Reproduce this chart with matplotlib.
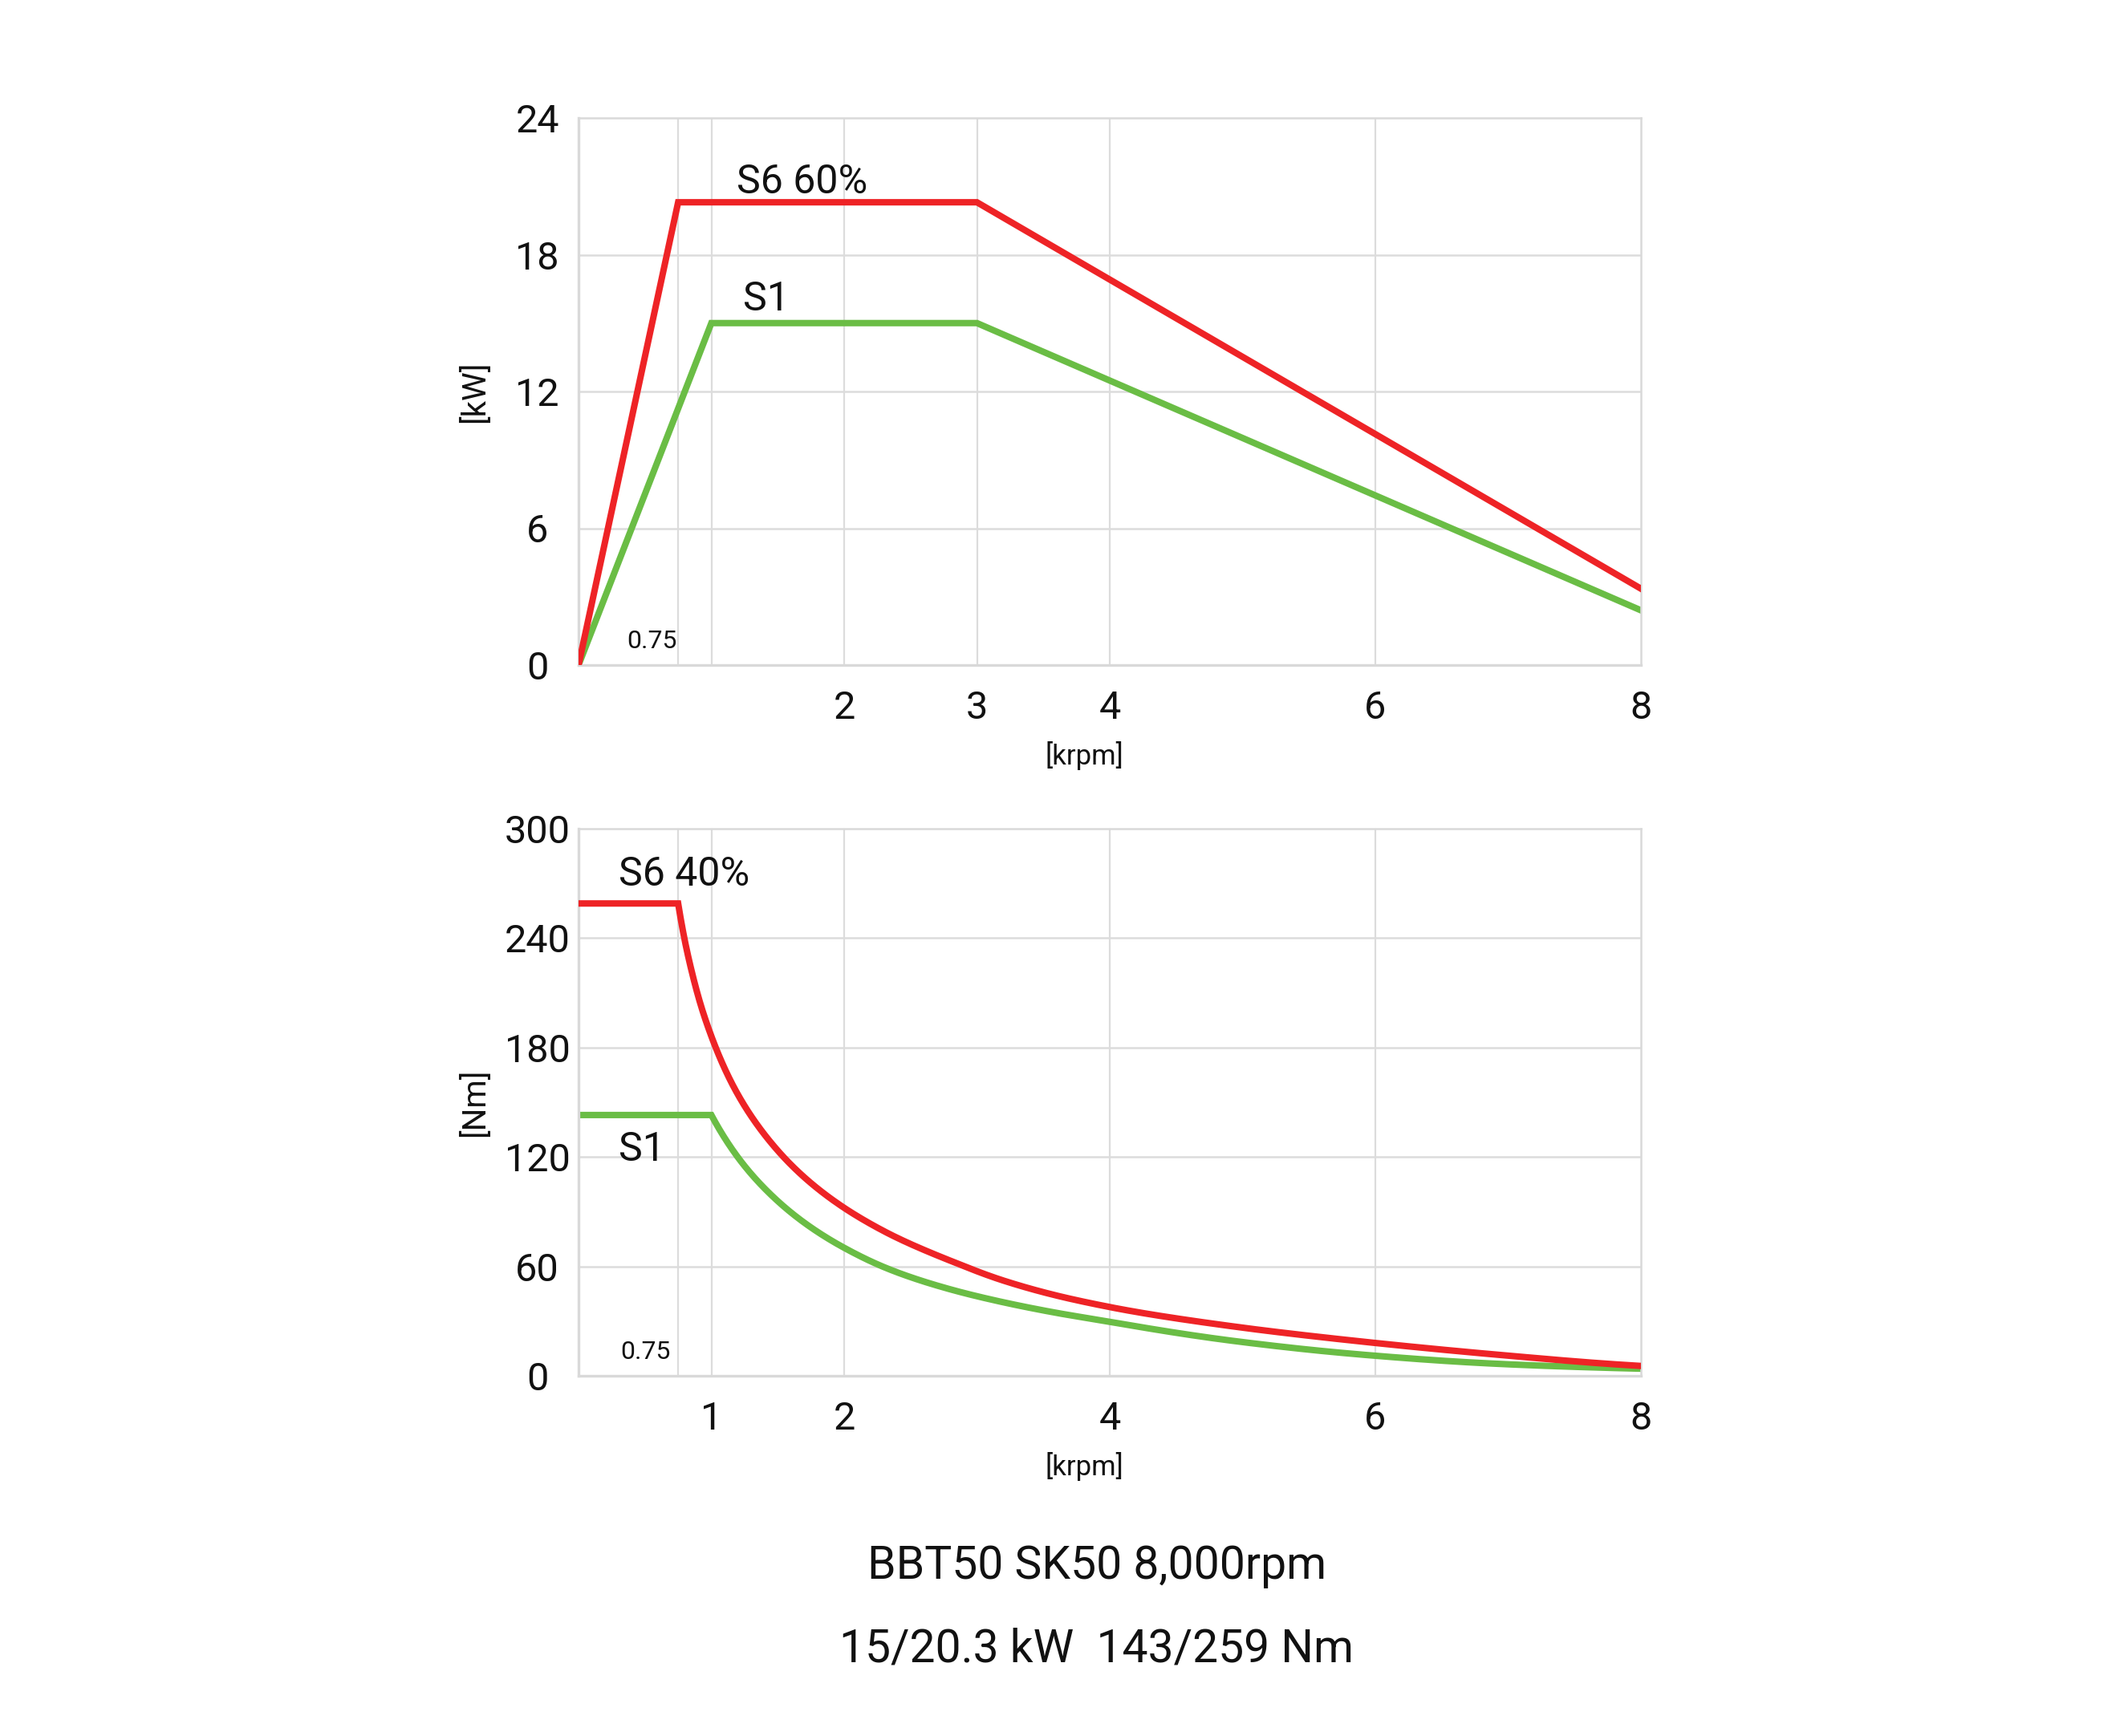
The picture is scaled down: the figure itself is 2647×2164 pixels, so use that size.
import matplotlib
matplotlib.use("Agg")
import matplotlib.pyplot as plt
import numpy as np

plt.rcParams['font.family'] = ['Roboto', 'DejaVu Sans']

RED = '#EE2326'
GREEN = '#6ABD45'
GRID = '#DCDCDC'
TXT = '#111111'

# ---- data: power chart ----
power_s6_speed = [0, 0.75, 3.0, 8.0]
power_s6_kw = [0, 20.3, 20.3, 3.35]
power_s1_speed = [0, 1.0, 3.0, 8.0]
power_s1_kw = [0, 15.0, 15.0, 2.4]
power_xticks = [2, 3, 4, 6, 8]
power_xgrid = [0.75, 1.0, 2, 3, 4, 6]
power_yticks = [0, 6, 12, 18, 24]

# ---- data: torque chart ----
torque_s6_speed = [0, 0.75, 0.8, 0.85, 0.92, 1.0, 1.15, 1.5, 2.0, 2.3, 2.8,
                   3.2, 3.6, 4.0, 5.0, 6.0, 7.0, 8.0]
torque_s6_nm = [259, 259, 238.7, 222.4, 203.4, 186.2, 161, 123.5, 92.1, 79.3,
                63.1, 52.2, 44.0, 37.7, 26.4, 18.0, 11.05, 5.4]
torque_s1_speed = [0, 1.0, 1.18, 1.5, 2.0, 2.3, 2.8, 3.2, 3.6, 4.0, 5.0, 6.0,
                   7.0, 8.0]
torque_s1_nm = [143, 143, 121.8, 95.8, 70.2, 59.6, 47.4, 40.3, 34.5, 29.6,
                18.5, 11.0, 6.3, 3.9]
torque_xticks = [1, 2, 4, 6, 8]
torque_xgrid = [0.75, 1.0, 2, 4, 6]
torque_yticks = [0, 60, 120, 180, 240, 300]

title_line1 = "BBT50 SK50 8,000rpm"
title_line2 = "15/20.3 kW  143/259 Nm"


def _pchip(x, y, xn):
    h = np.diff(x)
    d = np.diff(y) / h
    m = np.zeros_like(x)
    for k in range(1, len(x) - 1):
        if d[k - 1] * d[k] > 0:
            w1 = 2 * h[k] + h[k - 1]
            w2 = h[k] + 2 * h[k - 1]
            m[k] = (w1 + w2) / (w1 / d[k - 1] + w2 / d[k])
    m[0] = ((2 * h[0] + h[1]) * d[0] - h[0] * d[1]) / (h[0] + h[1])
    if np.sign(m[0]) != np.sign(d[0]):
        m[0] = 0
    m[-1] = ((2 * h[-1] + h[-2]) * d[-1] - h[-1] * d[-2]) / (h[-1] + h[-2])
    if np.sign(m[-1]) != np.sign(d[-1]):
        m[-1] = 0
    idx = np.clip(np.searchsorted(x, xn) - 1, 0, len(x) - 2)
    t = (xn - x[idx]) / h[idx]
    h00 = 2 * t**3 - 3 * t**2 + 1
    h10 = t**3 - 2 * t**2 + t
    h01 = -2 * t**3 + 3 * t**2
    h11 = t**3 - t**2
    return (h00 * y[idx] + h10 * h[idx] * m[idx] + h01 * y[idx + 1]
            + h11 * h[idx] * m[idx + 1])


def smooth_path(xs, ys, start, n=500):
    """Join the read points with a smooth curve (monotone cubic through the
    points in log-log space) from index `start` on; straight before it."""
    lx = np.log(np.asarray(xs[start:], float))
    ly = np.log(np.asarray(ys[start:], float))
    lxn = np.linspace(lx[0], lx[-1], n)
    lyn = _pchip(lx, ly, lxn)
    return (list(xs[:start]) + list(np.exp(lxn)),
            list(ys[:start]) + list(np.exp(lyn)))


W, H = 2647, 2164
DPI = 200
fig = plt.figure(figsize=(W / DPI, H / DPI), dpi=DPI)


def frac(left, top, right, bottom):
    return [left / W, 1 - bottom / H, (right - left) / W, (bottom - top) / H]


ax1 = fig.add_axes(frac(721, 147, 2045, 829))
ax2 = fig.add_axes(frac(721, 1033, 2045, 1715))


def style(ax, xgrid, yticks, xticks, ymax, ylabel):
    ax.set_xlim(0, 8)
    ax.set_ylim(0, ymax)
    for x in xgrid:
        ax.axvline(x, color=GRID, lw=0.8, zorder=0)
    for y in yticks[1:-1]:
        ax.axhline(y, color=GRID, lw=0.9, zorder=0)
    for side, sp in ax.spines.items():
        sp.set_color('#D9D9D9')
        sp.set_linewidth(1.2 if side in ('bottom', 'left') else 0.9)
    ax.set_xticks(xticks)
    ax.set_xticklabels([str(v) for v in xticks])
    ax.set_yticks(yticks)
    ax.set_yticklabels([str(v) for v in yticks], ha='center')
    ax.tick_params(axis='both', length=0, labelsize=17.5, colors=TXT)
    ax.tick_params(axis='x', pad=11)
    ax.tick_params(axis='y', pad=18.5)
    ax.text(-0.098, 0.5, ylabel, transform=ax.transAxes, rotation=90,
            ha='center', va='center', fontsize=14.5, color=TXT)
    ax.text(0.476, -0.165, '[krpm]', transform=ax.transAxes,
            ha='center', va='center', fontsize=12.5, color=TXT)


style(ax1, power_xgrid, power_yticks, power_xticks, 24, '[kW]')
style(ax2, torque_xgrid, torque_yticks, torque_xticks, 300, '[Nm]')

ax1.plot(power_s6_speed, power_s6_kw, color=RED, lw=2.9, zorder=3,
         solid_joinstyle='miter')
ax1.plot(power_s1_speed, power_s1_kw, color=GREEN, lw=2.9, zorder=2,
         solid_joinstyle='miter')
ax1.text(1.19, 21.2, 'S6 60%', fontsize=18, ha='left', va='center', color=TXT)
ax1.text(1.24, 16.05, 'S1', fontsize=18, ha='left', va='center', color=TXT)
ax1.text(0.74, 1.05, '0.75', fontsize=11.5, ha='right', va='center', color=TXT)

rx, ry = smooth_path(torque_s6_speed, torque_s6_nm, 1)
gx, gy = smooth_path(torque_s1_speed, torque_s1_nm, 1)
ax2.plot(rx, ry, color=RED, lw=2.9, zorder=3, solid_joinstyle='miter')
ax2.plot(gx, gy, color=GREEN, lw=2.9, zorder=2, solid_joinstyle='miter')
ax2.text(0.3, 275, 'S6 40%', fontsize=18, ha='left', va='center', color=TXT)
ax2.text(0.3, 124, 'S1', fontsize=18, ha='left', va='center', color=TXT)
ax2.text(0.69, 13, '0.75', fontsize=11.5, ha='right', va='center', color=TXT)

fig.text(1367 / W, 1 - 1952 / H, title_line1, ha='center', va='center',
         fontsize=20.5, color=TXT)
fig.text(1367 / W, 1 - 2056 / H, title_line2, ha='center', va='center',
         fontsize=20.5, color=TXT)

fig.savefig('out.png', dpi=DPI, facecolor='white')
